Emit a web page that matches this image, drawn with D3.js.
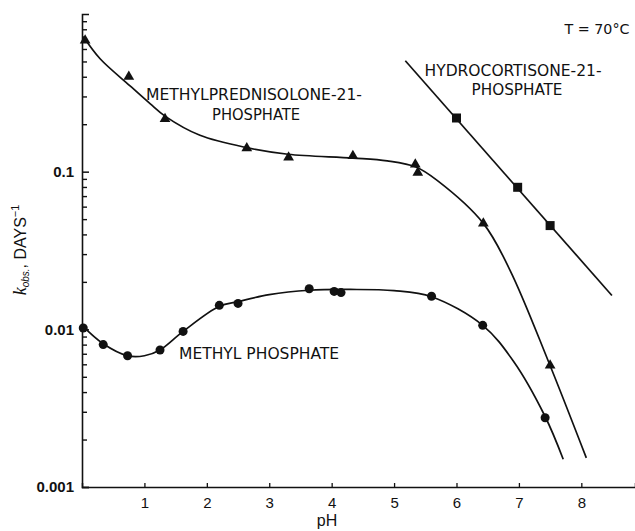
<!DOCTYPE html>
<html>
<head>
<meta charset="utf-8">
<script src="https://cdn.jsdelivr.net/npm/d3@7"></script>
<style>
  body { margin: 0; background: #fff; }
  svg { display: block; }
  .lbl { font-family: "DejaVu Sans Condensed", "Liberation Sans Narrow", "DejaVu Sans", sans-serif; fill: #111; }
</style>
</head>
<body>
<div id="chart"></div>
<script>
// Methylprednisolone-21-phosphate (triangles)
const mpPH = [0.05, 0.75, 1.33, 2.64, 3.31, 4.34, 5.34, 5.38, 6.43, 7.5];
const mpK  = [0.68, 0.40, 0.216, 0.141, 0.123, 0.126, 0.111, 0.0986, 0.047, 0.0059];
// fitted curve through them
const mpCurvePH = [0.02, 0.29, 0.77, 1.09, 1.33, 1.89, 2.64, 3.3, 4.34, 4.89, 5.35, 5.69, 6.43, 6.86, 7.47, 8.08];
const mpCurveK  = [0.72, 0.52, 0.35, 0.27, 0.225, 0.17, 0.142, 0.129, 0.122, 0.117, 0.107, 0.088, 0.047, 0.0236, 0.0063, 0.00153];

// Methyl phosphate (circles)
const mePH = [0.02, 0.34, 0.73, 1.25, 1.62, 2.2, 2.5, 3.64, 4.04, 4.15, 5.6, 6.42, 7.42];
const meK  = [0.0102, 0.0080, 0.0068, 0.0074, 0.0097, 0.0142, 0.0146, 0.0181, 0.0174, 0.0171, 0.0162, 0.0106, 0.00275];
const meCurvePH = [0.0, 0.34, 0.73, 1.0, 1.25, 1.62, 2.2, 2.5, 3.0, 3.64, 4.3, 5.0, 5.6, 6.42, 6.91, 7.42, 7.71];
const meCurveK  = [0.0106, 0.0081, 0.0068, 0.0068, 0.0074, 0.0097, 0.0140, 0.0150, 0.0166, 0.0177, 0.0179, 0.0176, 0.0161, 0.0106, 0.0063, 0.0028, 0.0015];

// Hydrocortisone-21-phosphate (squares)
const hcPH = [6.0, 6.98, 7.5];
const hcK  = [0.219, 0.0796, 0.0455];
const hcLinePH = [5.18, 8.49];
const hcLineK  = [0.505, 0.0164];

const xTicks = [1, 2, 3, 4, 5, 6, 7, 8];
const yMajor = [0.001, 0.01, 0.1];
const yLabels = ['0.001', '0.01', '0.1'];

const W = 635, H = 531;
const svg = d3.select('#chart').append('svg').attr('width', W).attr('height', H);

const x = d3.scaleLinear().domain([0, 8.86]).range([82, 635]);
const y = d3.scaleLog().domain([0.001, 1]).range([487, 14]);

// minor ticks 2..9 per decade
const yMinor = [];
[0.001, 0.01, 0.1].forEach(function(d){
  for (let i = 2; i <= 9; i++) yMinor.push(d * i);
});

// Y axis: major
const yAxisG = svg.append('g')
  .attr('transform', 'translate(' + x(0) + ',0)')
  .call(d3.axisLeft(y).tickValues(yMajor).tickSize(-7).tickPadding(8)
    .tickFormat(function(d, i){ return yLabels[i]; }));
yAxisG.select('.domain').attr('stroke', '#111').attr('stroke-width', 1.6);
yAxisG.selectAll('.tick line').attr('stroke', '#111').attr('stroke-width', 1.5);
yAxisG.selectAll('.tick text')
  .attr('font-family', 'Liberation Sans, Arial, sans-serif')
  .attr('font-weight', 'bold')
  .attr('font-size', 15)
  .attr('fill', '#111');

// Y axis: minor
const yMinorG = svg.append('g')
  .attr('transform', 'translate(' + x(0) + ',0)')
  .call(d3.axisLeft(y).tickValues(yMinor).tickSize(-5).tickFormat(''));
yMinorG.select('.domain').remove();
yMinorG.selectAll('.tick line').attr('stroke', '#111').attr('stroke-width', 1.4);

// X axis
const xAxisG = svg.append('g')
  .attr('transform', 'translate(0,' + y(0.001) + ')')
  .call(d3.axisBottom(x).tickValues(xTicks).tickSize(-4).tickPadding(10).tickFormat(d3.format('d')));
xAxisG.select('.domain').attr('stroke', '#111').attr('stroke-width', 1.5);
xAxisG.selectAll('.tick line').attr('stroke', '#111').attr('stroke-width', 1.3);
xAxisG.selectAll('.tick text')
  .attr('font-family', 'Liberation Sans, Arial, sans-serif')
  .attr('font-size', 15)
  .attr('fill', '#111');

// Axis titles
svg.append('text')
  .attr('x', 327).attr('y', 526)
  .attr('text-anchor', 'middle')
  .attr('font-family', 'Liberation Sans, Arial, sans-serif')
  .attr('font-size', 16)
  .attr('fill', '#111')
  .text('pH');

const yt = svg.append('text')
  .attr('transform', 'translate(26,250) rotate(-90)')
  .attr('text-anchor', 'middle')
  .attr('font-family', 'Liberation Sans, Arial, sans-serif')
  .attr('font-size', 16)
  .attr('fill', '#111');
yt.append('tspan').attr('font-style', 'italic').attr('font-family', 'Liberation Serif, serif').attr('font-size', 18).text('k');
yt.append('tspan').attr('font-size', 10).attr('font-style', 'italic').attr('dy', 3).text('obs.');
yt.append('tspan').attr('dy', -3).text(', DAYS');
yt.append('tspan').attr('font-size', 11).attr('dy', -7).text('−1');

// Curves
function toPts(px, ky){ return px.map(function(p, i){ return [x(p), y(ky[i])]; }); }
const curveLine = d3.line().curve(d3.curveCatmullRom.alpha(0.5));

[[mpCurvePH, mpCurveK], [meCurvePH, meCurveK], [hcLinePH, hcLineK]].forEach(function(c){
  svg.append('path')
    .attr('d', curveLine(toPts(c[0], c[1])))
    .attr('fill', 'none')
    .attr('stroke', '#111')
    .attr('stroke-width', 1.7);
});

// Markers
svg.append('g').selectAll('path')
  .data(mpPH.map(function(p, i){ return [p, mpK[i]]; }))
  .enter().append('path')
    .attr('transform', function(d){ return 'translate(' + x(d[0]) + ',' + y(d[1]) + ')'; })
    .attr('d', d3.symbol().type(d3.symbolTriangle).size(50))
    .attr('fill', '#111');

svg.append('g').selectAll('circle')
  .data(mePH.map(function(p, i){ return [p, meK[i]]; }))
  .enter().append('circle')
    .attr('cx', function(d){ return x(d[0]); })
    .attr('cy', function(d){ return y(d[1]); })
    .attr('r', 4.5)
    .attr('fill', '#111');

svg.append('g').selectAll('rect')
  .data(hcPH.map(function(p, i){ return [p, hcK[i]]; }))
  .enter().append('rect')
    .attr('x', function(d){ return x(d[0]) - 4.5; })
    .attr('y', function(d){ return y(d[1]) - 4.5; })
    .attr('width', 9).attr('height', 9)
    .attr('fill', '#111');

// Annotations
function label(txt, cx, cy, len, size){
  svg.append('text')
    .attr('class', 'lbl')
    .attr('x', cx).attr('y', cy)
    .attr('text-anchor', 'middle')
    .attr('dominant-baseline', 'central')
    .attr('font-size', size)
    .attr('textLength', len)
    .attr('lengthAdjust', 'spacingAndGlyphs')
    .text(txt);
}
label('METHYLPREDNISOLONE-21-', 254, 95, 216, 15);
label('PHOSPHATE', 256, 115, 88, 15);
label('HYDROCORTISONE-21-', 513, 71, 177, 15);
label('PHOSPHATE', 517, 90, 91, 15);
label('METHYL PHOSPHATE', 259, 354, 160, 15);
label('T = 70°C', 597, 29, 65, 14);
</script>
</body>
</html>
